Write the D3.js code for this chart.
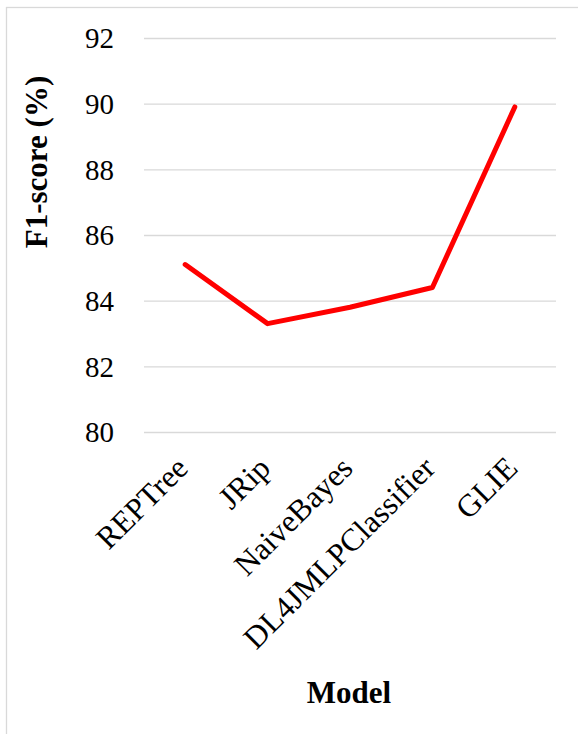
<!DOCTYPE html>
<html>
<head>
<meta charset="utf-8">
<script src="https://cdn.jsdelivr.net/npm/d3@7"></script>
<style>
  html, body { margin: 0; padding: 0; background: #fff; }
  svg { display: block; }
</style>
</head>
<body>
<svg id="chart" width="578" height="734"></svg>
<script>
// F1-score of each model
const models = ["REPTree", "JRip", "NaiveBayes", "DL4JMLPClassifier", "GLIE"];
const f1Scores = [85.1, 83.3, 83.8, 84.4, 89.9];
const yTicks = [80, 82, 84, 86, 88, 90, 92];

const svg = d3.select("#chart");
const serif = "'Liberation Serif', 'Times New Roman', serif";

// Outer frame of the chart area
svg.append("rect")
  .attr("x", 6.5).attr("y", 7.5)
  .attr("width", 700).attr("height", 900)
  .attr("fill", "none")
  .attr("stroke", "#d9d9d9")
  .attr("stroke-width", 1.3);

const plot = { left: 144, right: 556, top: 38, bottom: 432 };

const x = d3.scalePoint()
  .domain(models)
  .range([plot.left, plot.right])
  .padding(0.5);

const y = d3.scaleLinear()
  .domain([80, 92])
  .range([plot.bottom, plot.top]);

// Horizontal gridlines and value labels
const yAxis = d3.axisLeft(y)
  .tickValues(yTicks)
  .tickSize(-(plot.right - plot.left))
  .tickPadding(30)
  .tickFormat(d3.format("d"));

const gy = svg.append("g")
  .attr("transform", `translate(${plot.left},0)`)
  .call(yAxis);
gy.select(".domain").remove();
gy.selectAll(".tick line")
  .attr("stroke", "#d9d9d9")
  .attr("stroke-width", 1.3);
gy.selectAll(".tick text")
  .attr("fill", "#000")
  .attr("font-family", serif)
  .attr("font-size", 29)
  .attr("dy", "0.34em");

// Category labels, rotated
const xAxis = d3.axisBottom(x).tickSize(0).tickPadding(0);
const gx = svg.append("g")
  .attr("transform", `translate(0,${plot.bottom})`)
  .call(xAxis);
gx.select(".domain").remove();
gx.selectAll(".tick text")
  .attr("fill", "#000")
  .attr("font-family", serif)
  .attr("font-size", 31.5)
  .attr("text-anchor", "end")
  .attr("y", 0).attr("dy", 0)
  .attr("transform", "translate(4,38) rotate(-45)");

// Score line
const line = d3.line()
  .x((d, i) => x(models[i]))
  .y(d => y(d));

svg.append("path")
  .datum(f1Scores)
  .attr("d", line)
  .attr("fill", "none")
  .attr("stroke", "#ff0000")
  .attr("stroke-width", 5)
  .attr("stroke-linejoin", "round")
  .attr("stroke-linecap", "round");

// Axis titles
svg.append("text")
  .attr("x", 349).attr("y", 703)
  .attr("text-anchor", "middle")
  .attr("font-family", serif)
  .attr("font-weight", "bold")
  .attr("font-size", 31)
  .text("Model");

svg.append("text")
  .attr("transform", "translate(47,162) rotate(-90)")
  .attr("text-anchor", "middle")
  .attr("font-family", serif)
  .attr("font-weight", "bold")
  .attr("font-size", 31)
  .text("F1-score (%)");
</script>
</body>
</html>
